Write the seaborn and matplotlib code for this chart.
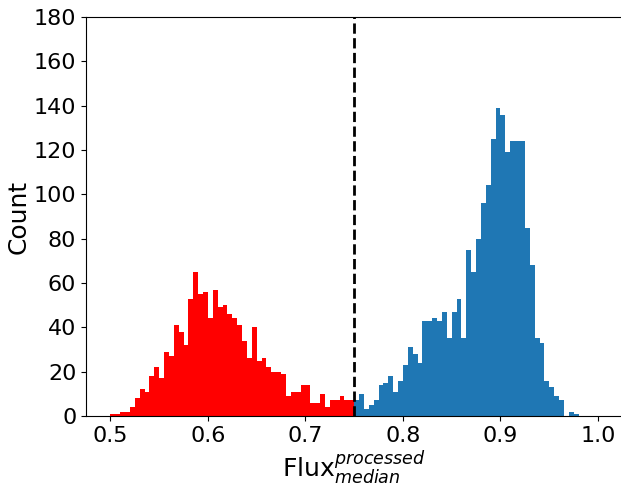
import numpy as np
import pandas as pd
import matplotlib
matplotlib.use("Agg")
import matplotlib.pyplot as plt
import seaborn as sns

# Histogram counts per 0.005-wide bin
low_edges_start = 0.50
high_edges_start = 0.75
bin_width = 0.005

low_counts = [1, 1, 2, 2, 4, 8, 12, 11, 18, 22,
              17, 29, 27, 41, 38, 32, 53, 65, 55, 56,
              44, 57, 49, 50, 46, 44, 41, 34, 26, 40,
              25, 26, 22, 20, 20, 19, 9, 11, 11, 14,
              14, 6, 6, 10, 4, 7, 7, 9, 7, 7]

high_counts = [7, 10, 3, 5, 7, 14, 15, 18, 11, 16,
               23, 31, 28, 24, 43, 43, 44, 43, 47, 35,
               47, 53, 35, 75, 65, 80, 96, 104, 125, 139,
               136, 119, 124, 124, 124, 85, 68, 35, 33, 16,
               13, 9, 7, 0, 2, 1, 0, 0, 0, 0]

threshold = 0.75
y_ticks = [0, 20, 40, 60, 80, 100, 120, 140, 160, 180]
x_ticks = [0.5, 0.6, 0.7, 0.8, 0.9, 1.0]


def binned_frame(start, counts):
    edges = start + bin_width * np.arange(len(counts) + 1)
    centers = (edges[:-1] + edges[1:]) / 2
    return pd.DataFrame({"flux": centers, "count": counts}), (edges[0], edges[-1])


low_df, low_range = binned_frame(low_edges_start, low_counts)
high_df, high_range = binned_frame(high_edges_start, high_counts)

fig = plt.figure(figsize=(6.21, 4.87), dpi=100)
ax = fig.add_axes([86 / 621, 71 / 487, (622.4 - 86) / 621, 399 / 487])

sns.histplot(data=low_df, x="flux", weights="count", binwidth=bin_width,
             binrange=low_range, color="red", alpha=1.0, edgecolor="none",
             linewidth=0, ax=ax)
sns.histplot(data=high_df, x="flux", weights="count", binwidth=bin_width,
             binrange=high_range, color="#1f77b4", alpha=1.0, edgecolor="none",
             linewidth=0, ax=ax)

ax.axvline(threshold, color="black", linestyle="--", linewidth=2)

ax.set_xlim(0.475, 1.025)
ax.set_ylim(0, 180)
ax.set_xticks(x_ticks)
ax.set_xticklabels([f"{v:.1f}" for v in x_ticks])
ax.set_yticks(y_ticks)
ax.tick_params(labelsize=16)
ax.set_xlabel(r"$\mathrm{Flux}_{median}^{processed}$", fontsize=18, labelpad=2)
ax.set_ylabel("Count", fontsize=18, labelpad=2)

fig.savefig("out.png", dpi=100)
